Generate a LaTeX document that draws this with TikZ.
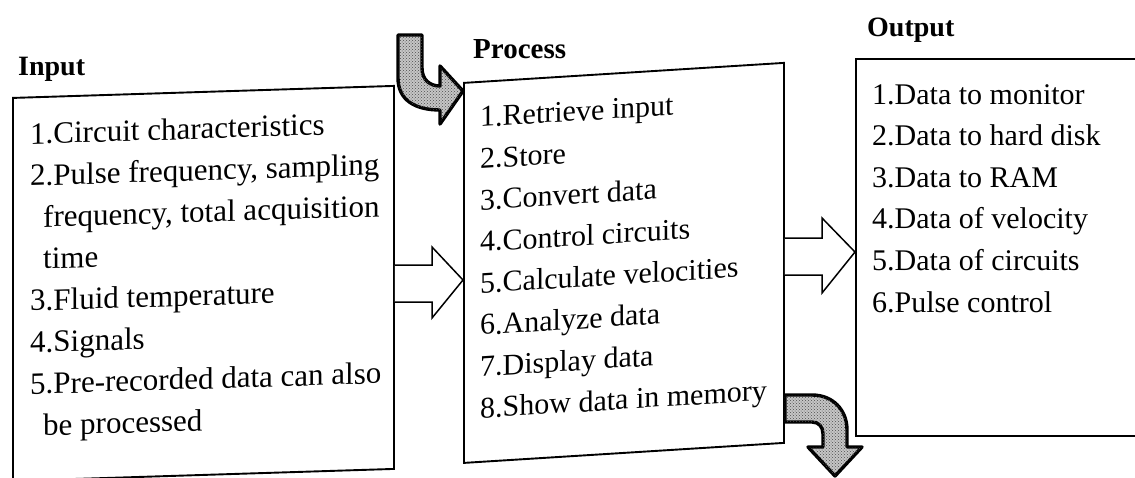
\documentclass[tikz,border=0pt]{standalone}
\usepackage{fontspec}
\setmainfont{Liberation Serif}
\usetikzlibrary{positioning,patterns}

\begin{document}
\begin{tikzpicture}[x=1pt, y=-1pt,
  panel/.style={draw, line width=1.9pt, anchor=north west, inner sep=0pt},
  items/.style={anchor=north west, align=left, inner sep=0pt, font=\fontsize{30}{41.6}\selectfont},
  heading/.style={anchor=base west, inner sep=0pt, font=\fontsize{28}{30}\selectfont\bfseries},
  hollow/.style={draw, line width=1.5pt, fill=white, line join=miter},
  bent/.style={draw, line width=3.4pt, fill=gray!45, line join=round,
    postaction={pattern=crosshatch dots, pattern color=black!70}}]
\useasboundingbox (0,0) rectangle (1135,477);

% Boxes
\begin{scope}[shift={(12,97)}, yslant=0.0315, transform shape]
\node[panel, minimum width=381pt, minimum height=383pt] (inbox) at (0,0) {};
\node[items, font=\fontsize{31}{41.7}\selectfont] (inlist) at (18,26) {1.Circuit characteristics\\2.Pulse frequency, sampling\\\hspace*{13pt}frequency, total acquisition\\\hspace*{13pt}time\\3.Fluid temperature\\4.Signals\\5.Pre-recorded data can also\\\hspace*{13pt}be processed};
\end{scope}

\begin{scope}[shift={(463,82)}, yslant=0.0625, transform shape]
\node[panel, minimum width=320pt, minimum height=380pt] (procbox) at (0,0) {};
\node[items] (proclist) at (17,26) {1.Retrieve input\\2.Store\\3.Convert data\\4.Control circuits\\5.Calculate velocities\\6.Analyze data\\7.Display data\\8.Show data in memory};
\end{scope}

\node[panel, minimum width=330pt, minimum height=377pt] (outbox) at (855,58) {};
\node[items] (outlist) at (872,84) {1.Data to monitor\\2.Data to hard disk\\3.Data to RAM\\4.Data of velocity\\5.Data of circuits\\6.Pulse control};

% Titles
\node[heading] (inhead) at (18,75) {Input};
\node[heading, font=\fontsize{29}{30}\selectfont\bfseries] (prochead) at (473,58) {Process};
\node[heading] (outhead) at (867,36) {Output};

% Arrows
\draw[hollow] (inbox.east |- 0,265) -- (432,265) -- (432,247) -- (procbox.west |- 0,280) -- (432,318) -- (432,302) -- (inbox.east |- 0,302);
\draw[hollow] (procbox.east |- 0,238) -- (822,238) -- (822,218) -- (outbox.west |- 0,252) -- (822,293) -- (822,275) -- (procbox.east |- 0,275);
\draw[bent] (398,35) -- (398,78) .. controls (398,100) and (415,110) .. (440,110) -- (440,124) -- (procbox.west |- 0,91) -- (440,66) -- (440,86) .. controls (430,86) and (422,80) .. (422,68) -- (422,35) -- cycle;
\draw[bent] (procbox.east |- 0,395) -- (812,395) .. controls (833,395) and (847,410) .. (847,430) -- (847,447) -- (862,447) -- (835,476) -- (808,447) -- (823,447) -- (823,434) .. controls (823,427) and (819,422) .. (812,422) -- (procbox.east |- 0,422) -- cycle;

\end{tikzpicture}
\end{document}
